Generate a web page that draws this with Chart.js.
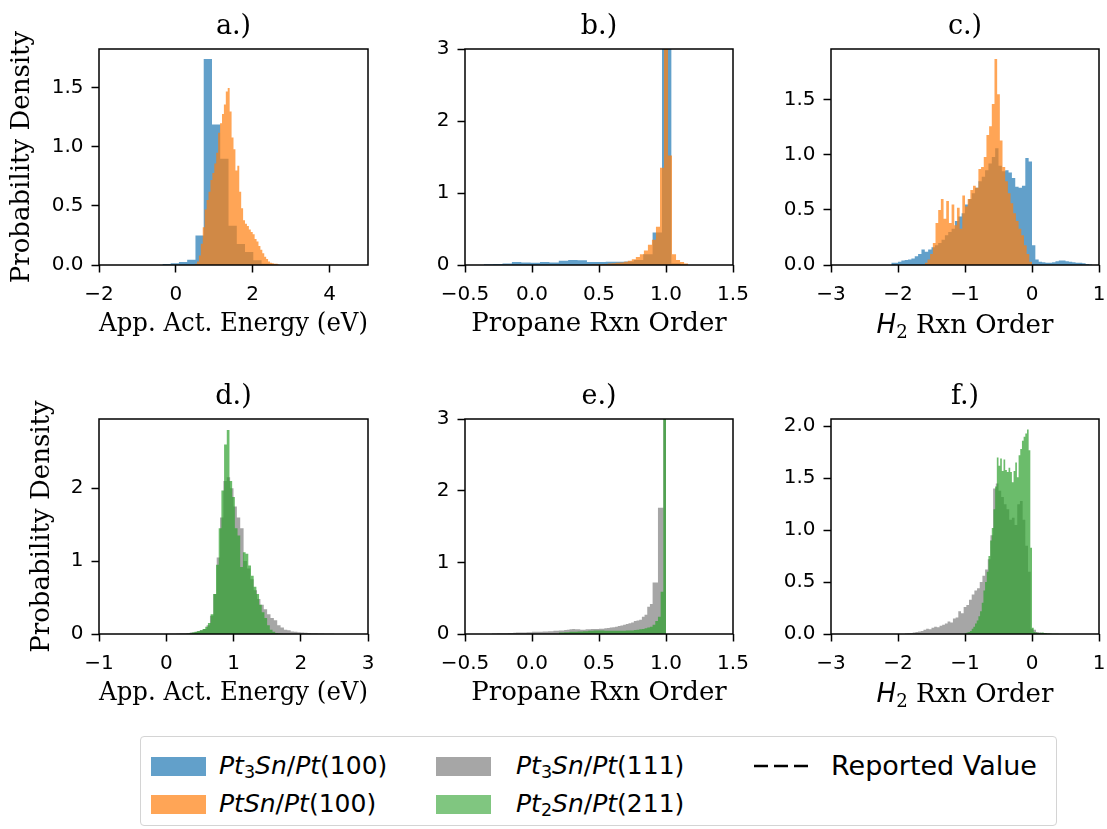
<!DOCTYPE html>
<html>
<head>
<meta charset="utf-8">
<title>Rxn order histograms</title>
<script src="https://cdn.jsdelivr.net/npm/chart.js"></script>
<style>
  body { margin: 0; background: #fff; }
  #fig { position: relative; width: 1107px; height: 829px; overflow: hidden; background: #fff; }
  #fig canvas { position: absolute; }
  .xl { position: absolute; width: 268px; text-align: center; height: 32px; line-height: 32px;
        font-family: "DejaVu Serif", serif; font-size: 26px; color: #000; white-space: nowrap; }
  .xl i { font-family: "DejaVu Sans", sans-serif; }
  .xl sub, .item sub { font-size: 70%; vertical-align: -0.25em; line-height: 0; }
  #legend { position: absolute; left: 140px; top: 736px; width: 917px; height: 90px; box-sizing: border-box;
            border: 1px solid #d4d4d4; border-radius: 4px; font-family: "DejaVu Sans", sans-serif;
            font-size: 25px; color: #000; background: #fff; }
  .item { position: absolute; height: 30px; line-height: 30px; white-space: nowrap; }
  .patch { position: absolute; width: 55px; height: 19px; }
</style>
</head>
<body>
<div id="fig">
  <canvas id="pa"></canvas><canvas id="pb"></canvas><canvas id="pc"></canvas>
  <canvas id="pd"></canvas><canvas id="pe"></canvas><canvas id="pf"></canvas>
  <div class="xl" style="left:831px;top:308px"><i>H</i><sub>2</sub> Rxn Order</div>
  <div class="xl" style="left:831px;top:677px"><i>H</i><sub>2</sub> Rxn Order</div>
  <div id="legend">
    <div class="patch" style="left:10px;top:20px;background:rgba(31,119,180,0.7)"></div>
    <div class="item" style="left:78px;top:14px"><i>Pt</i><sub>3</sub><i>Sn</i>/<i>Pt</i>(100)</div>
    <div class="patch" style="left:10px;top:58px;background:rgba(255,127,14,0.7)"></div>
    <div class="item" style="left:78px;top:52px"><i>PtSn</i>/<i>Pt</i>(100)</div>
    <div class="patch" style="left:295px;top:20px;background:rgba(128,128,128,0.7)"></div>
    <div class="item" style="left:375px;top:14px"><i>Pt</i><sub>3</sub><i>Sn</i>/<i>Pt</i>(111)</div>
    <div class="patch" style="left:295px;top:58px;background:rgba(44,160,44,0.6)"></div>
    <div class="item" style="left:375px;top:52px"><i>Pt</i><sub>2</sub><i>Sn</i>/<i>Pt</i>(211)</div>
    <svg style="position:absolute;left:613px;top:22px" width="56" height="14">
      <line x1="0" y1="7" x2="54" y2="7" stroke="#000" stroke-width="2.5" stroke-dasharray="14 6"/>
    </svg>
    <div class="item" style="left:690px;top:14px;font-size:27px">Reported Value</div>
  </div>
</div>
<script>
// histogram densities: bin start, bin width, heights
const aBlueStart = -0.35, aBlueWidth = 0.215;
const aBlue = [0.008, 0.015, 0.025, 0.045, 0.25, 1.745, 1.19, 0.9, 0.333, 0.178, 0.11, 0.04, 0.01];
const aOrangeStart = 0.5, aOrangeWidth = 0.05;
const aOrange = [0.01, 0.03, 0.08, 0.18, 0.32, 0.47, 0.55, 0.62, 0.72, 0.78, 0.86, 0.95, 1.12, 1.2, 1.28,
  1.36, 1.47, 1.5, 1.3, 1.08, 0.98, 0.8, 0.84, 0.62, 0.48, 0.38, 0.35, 0.33, 0.3, 0.28, 0.26, 0.22,
  0.2, 0.16, 0.13, 0.1, 0.07, 0.05, 0.03, 0.02, 0.015, 0.01, 0.01, 0.005];

const bBlueStart = -0.36, bBlueWidth = 0.07;
const bBlue = [0.01, 0.015, 0.02, 0.04, 0.035, 0.03, 0.04, 0.035, 0.06, 0.07, 0.065, 0.04, 0.04, 0.045,
  0.045, 0.05, 0.07, 0.15, 0.45, 12.9, 0.02];
const bOrangeStart = 0.385, bOrangeWidth = 0.03;
const bOrange = [0.005, 0.005, 0.008, 0.01, 0.012, 0.015, 0.02, 0.025, 0.03, 0.035, 0.045, 0.06, 0.08,
  0.11, 0.15, 0.2, 0.28, 0.35, 0.53, 1.35, 28.2, 1.52, 0.15, 0.07, 0.04, 0.02];

const cBlueStart = -2.1, cBlueWidth = 0.05;
const cBlue = [0.02, 0.02, 0.03, 0.04, 0.045, 0.05, 0.06, 0.08, 0.1, 0.14,
  0.12, 0.14, 0.16, 0.18, 0.2, 0.23, 0.27, 0.3, 0.33, 0.4,
  0.44, 0.47, 0.55, 0.6, 0.65, 0.7, 0.76, 0.8, 0.86, 0.92,
  0.98, 1.06, 0.9, 0.85, 0.86, 0.84, 0.79, 0.71, 0.7, 0.72,
  0.97, 0.94, 0.18, 0.05, 0.03, 0.025, 0.02, 0.02, 0.025, 0.035,
  0.04, 0.04, 0.035, 0.03, 0.025, 0.02, 0.02, 0.015, 0.01, 0.005];
const cOrangeStart = -1.6, cOrangeWidth = 0.04;
const cOrange = [0.02, 0.05, 0.1, 0.2, 0.38, 0.5, 0.6, 0.42, 0.58, 0.38,
  0.55, 0.36, 0.52, 0.33, 0.63, 0.53, 0.6, 0.68, 0.72, 0.7,
  0.87, 0.89, 0.98, 1.18, 1.26, 1.46, 1.87, 1.55, 1.13, 0.89,
  0.76, 0.65, 0.56, 0.47, 0.4, 0.33, 0.27, 0.18, 0.1, 0.03];

const dGrayStart = 0.0, dGrayWidth = 0.05;
const dGray = [0.003, 0.005, 0.005, 0.008, 0.01, 0.012, 0.015, 0.02, 0.025, 0.035,
  0.05, 0.07, 0.12, 0.25, 0.55, 1.05, 1.6, 2.1, 2.15, 2.0,
  1.75, 1.6, 1.45, 1.0, 0.9, 0.75, 0.6, 0.48, 0.4, 0.34,
  0.27, 0.22, 0.19, 0.12, 0.09, 0.06, 0.05, 0.035, 0.03, 0.025,
  0.02, 0.018, 0.015, 0.012, 0.01, 0.008, 0.006, 0.005, 0.004, 0.003];
const dGreenStart = 0.3, dGreenWidth = 0.04;
const dGreen = [0.005, 0.01, 0.02, 0.03, 0.04, 0.05, 0.07, 0.1, 0.15, 0.27,
  0.55, 0.95, 1.45, 1.97, 2.6, 2.8, 2.1, 1.88, 1.45, 1.35,
  0.92, 1.12, 1.1, 0.94, 0.8, 0.65, 0.55, 0.4, 0.3, 0.22,
  0.12, 0.06, 0.03, 0.015, 0.008, 0.004];

const eGrayStart = -0.3, eGrayWidth = 0.02;
const eGray = [0.008, 0.008, 0.01, 0.01, 0.012, 0.012, 0.015, 0.015, 0.018, 0.02,
  0.02, 0.022, 0.022, 0.025, 0.025, 0.03, 0.03, 0.032, 0.032, 0.035,
  0.035, 0.04, 0.04, 0.045, 0.045, 0.05, 0.05, 0.055, 0.06, 0.065,
  0.07, 0.065, 0.065, 0.06, 0.06, 0.065, 0.065, 0.07, 0.07, 0.07,
  0.075, 0.075, 0.08, 0.085, 0.09, 0.095, 0.1, 0.11, 0.12, 0.13,
  0.14, 0.15, 0.16, 0.18, 0.19, 0.2, 0.24, 0.27, 0.38, 0.42,
  0.72, 0.72, 1.76, 1.76, 40];
const eGreenStart = 0.2, eGreenWidth = 0.02;
const eGreen = [0.02, 0.02, 0.025, 0.025, 0.03, 0.03, 0.03, 0.035, 0.035, 0.04,
  0.04, 0.045, 0.045, 0.05, 0.05, 0.05, 0.05, 0.045, 0.045, 0.045,
  0.045, 0.045, 0.045, 0.045, 0.045, 0.05, 0.05, 0.05, 0.055, 0.06,
  0.065, 0.07, 0.08, 0.09, 0.1, 0.13, 0.18, 0.24, 0.59, 47];

const fGrayStart = -1.9, fGrayWidth = 0.04;
const fGray = [0.005, 0.008, 0.01, 0.015, 0.02, 0.025, 0.03, 0.04, 0.05, 0.045,
  0.06, 0.07, 0.065, 0.08, 0.09, 0.1, 0.12, 0.11, 0.15, 0.16,
  0.22, 0.2, 0.26, 0.28, 0.33, 0.38, 0.42, 0.44, 0.5, 0.56,
  0.62, 0.72, 0.95, 1.4, 1.45, 1.38, 1.32, 1.25, 1.2, 1.1,
  1.12, 1.05, 1.25, 1.28, 1.1, 0.85, 0.6, 0.05, 0.04, 0.02,
  0.015, 0.01, 0.01, 0.005, 0.003];
const fGreenStart = -1.0, fGreenWidth = 0.025;
const fGreen = [0.01, 0.015, 0.02, 0.03, 0.05, 0.07, 0.1, 0.13, 0.17, 0.22,
  0.3, 0.42, 0.5, 0.6, 0.75, 0.9, 1.02, 1.2, 1.42, 1.7,
  1.62, 1.69, 1.57, 1.68, 1.58, 1.56, 1.6, 1.56, 1.46, 1.57,
  1.65, 1.51, 1.72, 1.78, 1.86, 1.9, 1.93, 1.97, 1.77, 0.83,
  0.06, 0.02, 0.015, 0.01, 0.01, 0.012, 0.015, 0.01, 0.008, 0.005,
  0.005, 0.003, 0.003, 0.003, 0.002, 0.002];

// axis limits and tick steps per panel
const xLimits = [[-2, 5], [-0.5, 1.5], [-3, 1], [-1, 3], [-0.5, 1.5], [-3, 1]];
const xSteps = [2, 0.5, 1, 1, 0.5, 1];
const yLimits = [[0, 1.83], [0, 3], [0, 1.96], [0, 2.95], [0, 3], [0, 2.07]];
const ySteps = [0.5, 1, 0.5, 1, 1, 0.5];
const panelTitles = ['a.)', 'b.)', 'c.)', 'd.)', 'e.)', 'f.)'];
const xTitles = ['App. Act. Energy (eV)', 'Propane Rxn Order', '', 'App. Act. Energy (eV)', 'Propane Rxn Order', ''];

const BLUE = 'rgba(31, 119, 180, 0.7)';
const ORANGE = 'rgba(255, 127, 14, 0.7)';
const GRAY = 'rgba(128, 128, 128, 0.7)';
const GREEN = 'rgba(44, 160, 44, 0.7)';

// plot-area pixel boxes
const cols = [[99, 368], [465, 733], [831, 1099]];
const rows = [[49, 265], [419, 634]];

function hist(start, width, heights, color, order) {
  const pts = heights.map((h, i) => ({ x: start + i * width, y: h }));
  pts.push({ x: start + heights.length * width, y: 0 });
  return { data: pts, stepped: true, fill: 'origin', backgroundColor: color,
           borderWidth: 0, pointRadius: 0, order: order };
}

function fmt(dec) {
  return v => {
    if (Math.abs(v) < 1e-9) v = 0;
    return v.toFixed(dec).replace('-', '\u2212');
  };
}

const frame = {
  id: 'frame',
  afterDatasetsDraw(chart) {
    const { ctx, chartArea: a } = chart;
    ctx.save();
    ctx.strokeStyle = '#000';
    ctx.lineWidth = 1.5;
    ctx.strokeRect(a.left, a.top, a.right - a.left, a.bottom - a.top);
    ctx.restore();
  }
};

function panel(id, i, datasets) {
  const col = i % 3, row = Math.floor(i / 3);
  const [L, R] = cols[col], [T, B] = rows[row];
  const yW = 99, padR = 30, titleH = 38, xH = 80;
  const cv = document.getElementById(id);
  cv.width = yW + (R - L) + padR;
  cv.height = titleH + (B - T) + xH;
  cv.style.left = (L - yW) + 'px';
  cv.style.top = (T - titleH) + 'px';
  const xDec = xSteps[i] < 1 ? 1 : 0, yDec = ySteps[i] < 1 ? 1 : 0;
  const tickFont = { family: 'DejaVu Sans', size: 20 };
  const labelFont = { family: 'DejaVu Serif', size: 26 };
  new Chart(cv, {
    type: 'line',
    data: { datasets: datasets },
    plugins: [frame],
    options: {
      responsive: false,
      animation: false,
      events: [],
      layout: { padding: { left: 0, right: padR, top: 0, bottom: 0 } },
      plugins: {
        legend: { display: false },
        tooltip: { enabled: false },
        title: { display: true, text: panelTitles[i], fullSize: false, color: '#000',
                 font: { family: 'DejaVu Serif', size: 27, weight: 'normal', lineHeight: '32px' },
                 padding: { top: 0, bottom: 6 } }
      },
      scales: {
        x: {
          type: 'linear', min: xLimits[i][0], max: xLimits[i][1],
          ticks: { stepSize: xSteps[i], includeBounds: false, callback: fmt(xDec),
                   font: tickFont, color: '#000', padding: 10, maxRotation: 0, autoSkip: false },
          grid: { drawOnChartArea: false, drawTicks: true, tickLength: 7.5, tickColor: '#000', tickWidth: 1.5 },
          border: { display: false },
          title: { display: xTitles[i] !== '', text: xTitles[i], color: '#000', font: labelFont,
                   padding: { top: 0, bottom: 5.4 } },
          afterFit: s => { s.height = xH; s.paddingLeft = 0; s.paddingRight = 0; }
        },
        y: {
          type: 'linear', min: yLimits[i][0], max: yLimits[i][1],
          ticks: { stepSize: ySteps[i], includeBounds: false, callback: fmt(yDec),
                   font: tickFont, color: '#000', padding: 8 },
          grid: { drawOnChartArea: false, drawTicks: true, tickLength: 7.5, tickColor: '#000', tickWidth: 1.5 },
          border: { display: false },
          title: { display: col === 0, text: 'Probability Density', color: '#000', font: labelFont,
                   padding: { top: row === 0 ? 6.4 : 26.4, bottom: 0 } },
          afterFit: s => { s.width = yW; s.paddingTop = 0; s.paddingBottom = 0; }
        }
      }
    }
  });
}

panel('pa', 0, [hist(aOrangeStart, aOrangeWidth, aOrange, ORANGE, 0), hist(aBlueStart, aBlueWidth, aBlue, BLUE, 1)]);
panel('pb', 1, [hist(bOrangeStart, bOrangeWidth, bOrange, ORANGE, 0), hist(bBlueStart, bBlueWidth, bBlue, BLUE, 1)]);
panel('pc', 2, [hist(cOrangeStart, cOrangeWidth, cOrange, ORANGE, 0), hist(cBlueStart, cBlueWidth, cBlue, BLUE, 1)]);
panel('pd', 3, [hist(dGreenStart, dGreenWidth, dGreen, GREEN, 0), hist(dGrayStart, dGrayWidth, dGray, GRAY, 1)]);
panel('pe', 4, [hist(eGreenStart, eGreenWidth, eGreen, GREEN, 0), hist(eGrayStart, eGrayWidth, eGray, GRAY, 1)]);
panel('pf', 5, [hist(fGreenStart, fGreenWidth, fGreen, GREEN, 0), hist(fGrayStart, fGrayWidth, fGray, GRAY, 1)]);
</script>
</body>
</html>
